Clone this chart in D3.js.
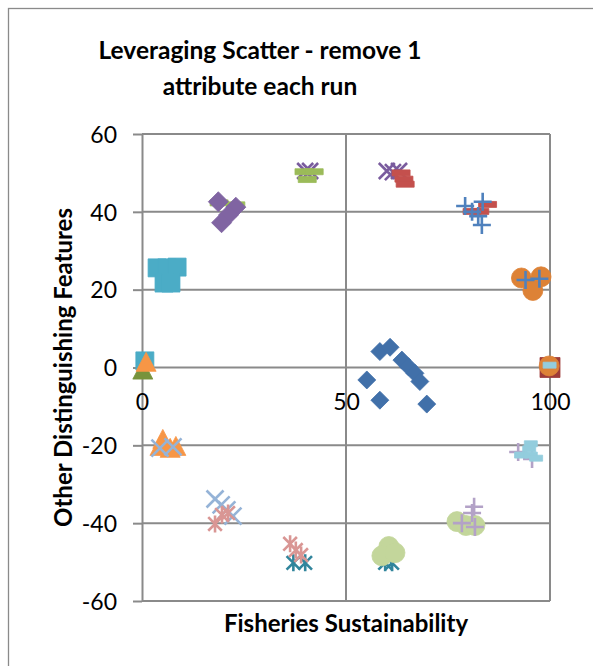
<!DOCTYPE html>
<html>
<head>
<meta charset="utf-8">
<script src="https://cdn.jsdelivr.net/npm/d3@7"></script>
<style>
  html, body { margin: 0; padding: 0; background: #fff; }
  svg { display: block; }
  text { font-family: Lato, "Open Sans", sans-serif; fill: #000; }
</style>
</head>
<body>
<svg id="chart" width="593" height="666"></svg>
<script>
// ---- chart values (x = Fisheries Sustainability, y = Other Distinguishing Features) ----
const xTicks = [0, 50, 100];
const yTicks = [-60, -40, -20, 0, 20, 40, 60];

const blueDiamonds = [[58.3, 4.1], [60.8, 5.2], [63.7, 1.9], [65.3, 0.2], [66.9, -1.5], [68.1, -3.6],
                      [55.1, -3.2], [58.3, -8.4], [69.8, -9.4]];
const darkRedSquares = [[100, 0]];
const purpleX = [[40.0, 50.5], [41.2, 50.5], [60.0, 50.5], [61.5, 50.2], [63.0, 50.5]];
const redDashes = [[63.5, 50.0], [64.2, 48.4], [64.5, 47.1], [80.9, 40.1], [82.8, 40.1], [84.7, 41.9]];
const greenDashes = [[18.9, 42.3], [23.0, 41.8], [39.7, 50.3], [42.2, 50.3], [40.5, 48.3]];
const purpleDiamonds = [[18.7, 42.6], [23.0, 41.2], [21.2, 39.2], [19.5, 37.2]];
const cyanSquares = [[0.7, 1.7], [3.7, 25.6], [6.1, 25.6], [8.6, 25.8], [5.4, 21.7], [7.1, 21.7]];
const oliveTriangles = [[0.2, -0.8]];
const orangeTriangles = [[1.0, 1.2], [5.1, -18.6], [4.4, -20.4], [8.3, -20.4], [6.9, -20.9]];
const orangeCircles = [[99.8, 0.4], [93.0, 23.0], [97.8, 23.3], [95.8, 19.8]];
const bluePlus = [[79.2, 41.5], [83.5, 42.6], [82.4, 38.9], [83.3, 36.6], [80.9, 40.0], [94.0, 22.5], [97.4, 22.8]];
const tealStars = [[59.6, -50.2], [61.3, -50.2], [37.1, -50.2], [40.0, -50.2]];
const lightBlueX = [[4.4, -20.7], [7.6, -20.4], [17.9, -33.8], [19.4, -35.3], [20.8, -36.6], [22.3, -38.2]];
const pinkStars = [[17.9, -40.2], [19.6, -37.9], [21.1, -37.4], [36.3, -45.3], [37.7, -46.9], [39.0, -48.2]];
const lightGreenCircles = [[77.2, -39.6], [79.4, -40.6], [81.6, -40.6], [60.5, -46.0], [58.8, -48.4], [62.0, -47.6]];
const lavenderPlus = [[92.2, -21.7], [95.6, -23.5], [81.4, -35.8], [80.9, -37.4], [78.4, -40.0], [81.6, -41.0]];
const lightBlueDashes = [[99.9, 0.6], [95.3, -19.6], [94.9, -20.9], [92.9, -22.5], [95.3, -22.5], [96.6, -23.3]];

// ---- series styling, in drawing order (later series sit on top) ----
const series = [
  { data: blueDiamonds,      shape: "diamond",  size: 18, color: "#4170A9" },
  { data: darkRedSquares,    shape: "square",   size: 20, color: "#9E3B38" },
  { data: purpleX,           shape: "x",        size: 16, color: "#7A5C9E" },
  { data: redDashes,         shape: "dash",     size: 18, color: "#C4504D" },
  { data: greenDashes,       shape: "dash",     size: 18, color: "#9BBB59" },
  { data: purpleDiamonds,    shape: "diamond",  size: 20, color: "#8064A2" },
  { data: cyanSquares,       shape: "square",   size: 18, color: "#4BACC6" },
  { data: oliveTriangles,    shape: "triangle", size: 20, color: "#77933C" },
  { data: orangeTriangles,   shape: "triangle", size: 20, color: "#F79646" },
  { data: orangeCircles,     shape: "circle",   size: 20, color: "#DD8236" },
  { data: bluePlus,          shape: "plus",     size: 18, color: "#4F81BD" },
  { data: tealStars,         shape: "star",     size: 17, color: "#31859C" },
  { data: lightBlueX,        shape: "x",        size: 17, color: "#95B3D7" },
  { data: pinkStars,         shape: "star",     size: 17, color: "#D99694" },
  { data: lightGreenCircles, shape: "circle",   size: 20, color: "#C3D69B" },
  { data: lavenderPlus,      shape: "plus",     size: 18, color: "#B3A2C7" },
  { data: lightBlueDashes,   shape: "dash",     size: 13, color: "#93CDDD" }
];

const font = "Lato, 'Open Sans', sans-serif";
const svg = d3.select("#chart");

// chart frame
svg.append("rect")
  .attr("x", 8.5).attr("y", 8.5)
  .attr("width", 700).attr("height", 700)
  .attr("fill", "#fff").attr("stroke", "#8a8a8a").attr("stroke-width", 1.3);

const x = d3.scaleLinear().domain([0, 100]).range([142, 550]);
const y = d3.scaleLinear().domain([-60, 60]).range([601, 134]);

const gridColor = "#8a8a8a";
const grid = svg.append("g").attr("stroke", gridColor).attr("stroke-width", 2);

// horizontal gridlines
grid.selectAll("line.h").data(yTicks).join("line")
  .attr("x1", x(0)).attr("x2", x(100))
  .attr("y1", d => y(d)).attr("y2", d => y(d));

// vertical gridlines
grid.selectAll("line.v").data(xTicks.filter(d => d > 0)).join("line")
  .attr("x1", d => x(d)).attr("x2", d => x(d))
  .attr("y1", y(60)).attr("y2", y(-60));

// y axis with outside ticks
const yAxis = svg.append("g")
  .attr("transform", `translate(${x(0)},0)`)
  .call(d3.axisLeft(y).tickValues(yTicks).tickFormat(d => String(d))
    .tickSizeInner(9).tickSizeOuter(0).tickPadding(16));
yAxis.select(".domain").attr("stroke", gridColor).attr("stroke-width", 2);
yAxis.selectAll(".tick line").attr("stroke", gridColor).attr("stroke-width", 2);
yAxis.selectAll(".tick text")
  .attr("font-size", 23).attr("font-family", font).attr("fill", "#000")
  .attr("dy", "0.36em");

// x axis labels sit below the zero line
const xAxis = svg.append("g")
  .attr("transform", `translate(0,${y(0)})`)
  .call(d3.axisBottom(x).tickValues(xTicks).tickFormat(d => String(d)).tickSize(0));
xAxis.select(".domain").remove();
xAxis.selectAll(".tick text")
  .attr("font-size", 23).attr("font-family", font).attr("fill", "#000")
  .attr("dy", null).attr("y", 42);

// marker shapes centred on the origin
function markerPath(shape, s) {
  const h = s / 2;
  switch (shape) {
    case "diamond":  return `M0,${-h}L${h},0L0,${h}L${-h},0Z`;
    case "square":   return `M${-h},${-h}h${s}v${s}h${-s}Z`;
    case "triangle": return `M0,${-h * 1.05}L${h},${h * 0.85}L${-h},${h * 0.85}Z`;
    case "circle":   return d3.arc()({ innerRadius: 0, outerRadius: h, startAngle: 0, endAngle: 2 * Math.PI });
    case "dash":     return `M${-h},-3h${s}v6h${-s}Z`;
    case "x":        return `M${-h},${-h}L${h},${h}M${h},${-h}L${-h},${h}`;
    case "plus":     return `M${-h},0H${h}M0,${-h}V${h}`;
    case "star": {
      const k = h * 0.8;
      return `M${-k},${-k}L${k},${k}M${k},${-k}L${-k},${k}M0,${-h}V${h}`;
    }
  }
}
const stroked = new Set(["x", "plus", "star"]);

const marks = svg.append("g");
series.forEach(sr => {
  const g = marks.append("g");
  g.selectAll("path").data(sr.data).join("path")
    .attr("transform", d => `translate(${x(d[0])},${y(d[1])})`)
    .attr("d", markerPath(sr.shape, sr.size))
    .attr("fill", stroked.has(sr.shape) ? "none" : sr.color)
    .attr("stroke", sr.color)
    .attr("stroke-width", stroked.has(sr.shape) ? 2.6 : 0.8)
    .attr("stroke-linejoin", "round");
});

// title
const title = svg.append("text")
  .attr("text-anchor", "middle")
  .attr("font-size", 24.5).attr("font-weight", "bold");
title.append("tspan").attr("x", 260).attr("y", 59).text("Leveraging Scatter - remove 1");
title.append("tspan").attr("x", 260).attr("y", 95).text("attribute each run");

// axis titles
svg.append("text")
  .attr("x", x(50)).attr("y", 632)
  .attr("text-anchor", "middle")
  .attr("font-size", 24).attr("font-weight", "bold")
  .text("Fisheries Sustainability");

svg.append("text")
  .attr("transform", `translate(72,${y(0)}) rotate(-90)`)
  .attr("text-anchor", "middle")
  .attr("font-size", 24).attr("font-weight", "bold")
  .text("Other Distinguishing Features");
</script>
</body>
</html>
